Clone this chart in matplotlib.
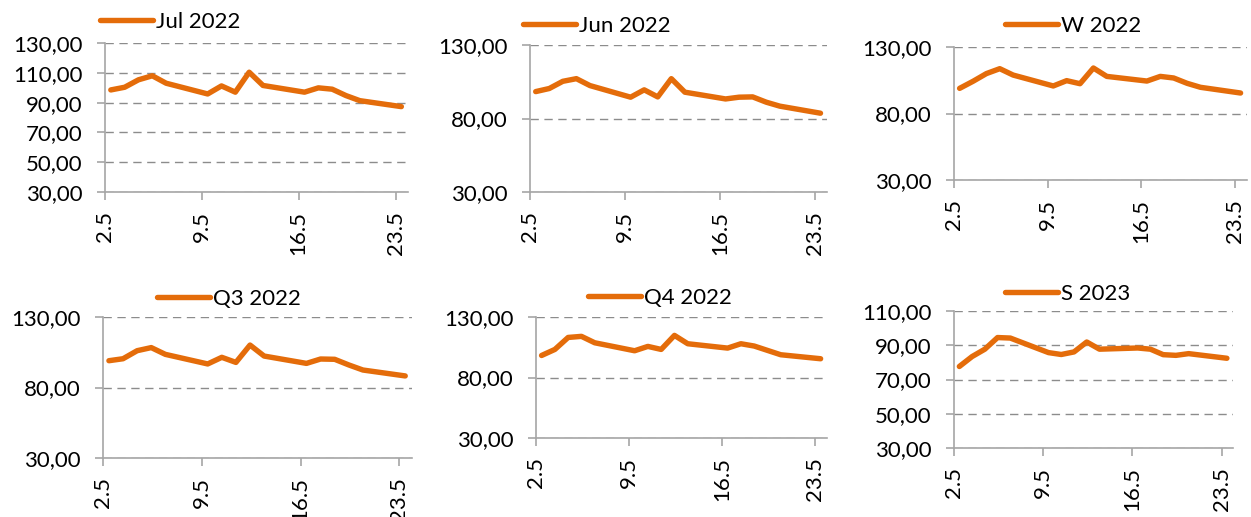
import matplotlib.pyplot as plt
from matplotlib.ticker import FuncFormatter

plt.rcParams['font.family'] = ['Lato', 'DejaVu Sans']

# trading days in May (weekdays)
days = [2, 3, 4, 5, 6, 9, 10, 11, 12, 13, 16, 17, 18, 19, 20, 23]
tick_days = [2, 9, 16, 23]
tick_labels = ['2.5', '9.5', '16.5', '23.5']

jul_2022 = [98.5, 100.3, 105.3, 108.0, 103.0, 95.8, 101.2, 97.0, 110.4, 101.5,
            97.0, 99.9, 99.0, 94.7, 91.3, 87.3]
jun_2022 = [98.3, 100.4, 105.3, 107.1, 102.4, 94.5, 99.5, 94.7, 107.1, 97.9,
            93.3, 94.5, 94.7, 91.1, 88.4, 83.6]
w_2022 = [98.9, 104.2, 110.0, 113.7, 108.9, 100.7, 104.7, 102.4, 114.2, 107.9,
          104.4, 107.9, 106.7, 102.7, 99.7, 95.4]
q3_2022 = [99.0, 100.4, 106.1, 108.3, 103.5, 96.7, 101.4, 97.8, 110.1, 102.3,
           97.1, 100.2, 100.0, 96.0, 92.4, 88.2]
q4_2022 = [98.2, 103.2, 113.1, 114.0, 108.7, 102.1, 105.7, 103.2, 114.8, 107.9,
           104.3, 107.9, 106.0, 102.4, 98.8, 95.5]
s_2023 = [77.6, 83.4, 87.7, 94.5, 94.2, 85.7, 84.6, 86.1, 91.9, 87.7,
          88.4, 87.7, 84.5, 84.1, 85.1, 82.4]

names = ['Jul 2022', 'Jun 2022', 'W 2022', 'Q3 2022', 'Q4 2022', 'S 2023']
series = [jul_2022, jun_2022, w_2022, q3_2022, q4_2022, s_2023]
y_ticks = [[30, 50, 70, 90, 110, 130], [30, 80, 130], [30, 80, 130],
           [30, 80, 130], [30, 80, 130], [30, 50, 70, 90, 110]]

W, H = 1251, 517
ORANGE = '#E46C0A'
GRAY = '#a6a6a6'

# axes boxes in pixels: left, right, top, bottom ; legend anchor (x, y)
boxes = [(105, 408, 43, 192), (530, 827, 45, 192), (954, 1247, 47, 180),
         (103, 412, 317, 458), (536, 827, 317, 438), (954, 1233, 311, 448)]
legend_pos = [(100, 22), (523, 26), (1005, 26), (157, 299), (588, 298), (1005, 294)]

fig = plt.figure(figsize=(W / 100, H / 100), dpi=100)
fmt = FuncFormatter(lambda v, p: f'{v:.2f}'.replace('.', ','))

for name, vals, yt, (l, r, t, b), (lx, ly) in zip(names, series, y_ticks, boxes, legend_pos):
    ax = fig.add_axes([l / W, 1 - b / H, (r - l) / W, (b - t) / H])
    ax.plot([d + 0.42 for d in days], vals, color=ORANGE, lw=3.9,
            solid_joinstyle='round', solid_capstyle='round', label=name)
    ax.set_xlim(2, 23.9)
    ax.set_ylim(yt[0], yt[-1])
    ax.set_yticks(yt)
    ax.yaxis.set_major_formatter(fmt)
    ax.set_xticks(tick_days)
    ax.set_xticklabels(tick_labels, rotation=90)
    ax.yaxis.grid(True, ls=(0, (6, 4)), color='#8c8c8c', lw=1)
    ax.set_axisbelow(True)
    for s in ['top', 'right']:
        ax.spines[s].set_visible(False)
    for s in ['left', 'bottom']:
        ax.spines[s].set_color(GRAY)
        ax.spines[s].set_linewidth(1.2)
    ax.tick_params(axis='both', length=6, width=1.2, color=GRAY, labelsize=16,
                   direction='out')
    ax.tick_params(axis='y', pad=10)
    ax.tick_params(axis='x', pad=8)
    ax.legend(loc='center left', bbox_to_anchor=(lx / W, 1 - ly / H),
              bbox_transform=fig.transFigure, frameon=False, handlelength=2.4,
              handletextpad=0.1, borderpad=0, borderaxespad=0, fontsize=16)

fig.savefig('out.png', dpi=100)
